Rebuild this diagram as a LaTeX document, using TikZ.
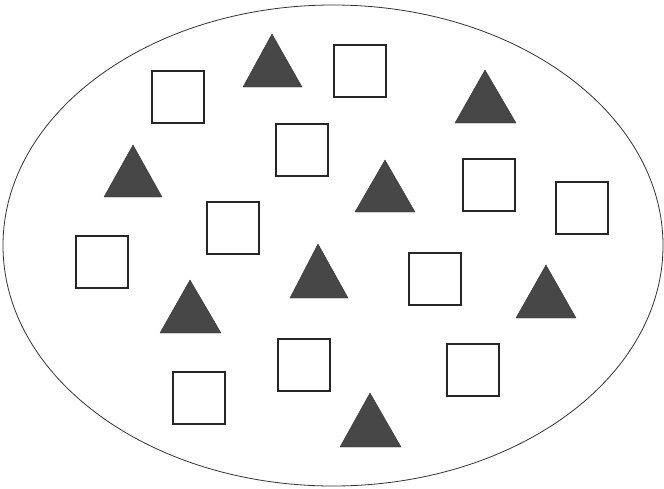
\documentclass[tikz,border=0pt]{standalone}
\usetikzlibrary{shapes.geometric}
\begin{document}
\begin{tikzpicture}[x=1pt,y=-1pt,
  sq/.style={draw=black!85, line width=1.1pt, fill=white, minimum size=52pt, inner sep=0pt, shape=rectangle},
  tri/.style={fill=black!72, draw=black!80, line width=0.4pt}]
\useasboundingbox (0,0) rectangle (664,488);
\fill[white] (0,0) rectangle (664,488);
\node[draw=black!80, line width=0.8pt, ellipse, minimum width=660pt, minimum height=481pt, inner sep=0pt] (e) at (333,245.5) {};
% squares
\node[sq] (s1) at (178,97) {};
\node[sq] (s2) at (360,71) {};
\node[sq] (s3) at (302,150) {};
\node[sq] (s4) at (489,185) {};
\node[sq] (s5) at (582,208) {};
\node[sq] (s6) at (233,228) {};
\node[sq] (s7) at (102,262) {};
\node[sq] (s8) at (435,279) {};
\node[sq] (s9) at (304,365) {};
\node[sq] (s10) at (473,370) {};
\node[sq] (s11) at (199,398) {};
% triangles
\fill[tri] (272,34) -- (302,87) -- (243,87) -- cycle;
\fill[tri] (485,70) -- (516,123) -- (455,123) -- cycle;
\fill[tri] (133,145) -- (162,197) -- (104,197) -- cycle;
\fill[tri] (385,160) -- (415,212) -- (355,212) -- cycle;
\fill[tri] (318,244) -- (348,298) -- (290,298) -- cycle;
\fill[tri] (190,280) -- (221,333) -- (160,333) -- cycle;
\fill[tri] (546,265) -- (576,318) -- (516,318) -- cycle;
\fill[tri] (370,393) -- (401,447) -- (340,447) -- cycle;
\end{tikzpicture}
\end{document}
